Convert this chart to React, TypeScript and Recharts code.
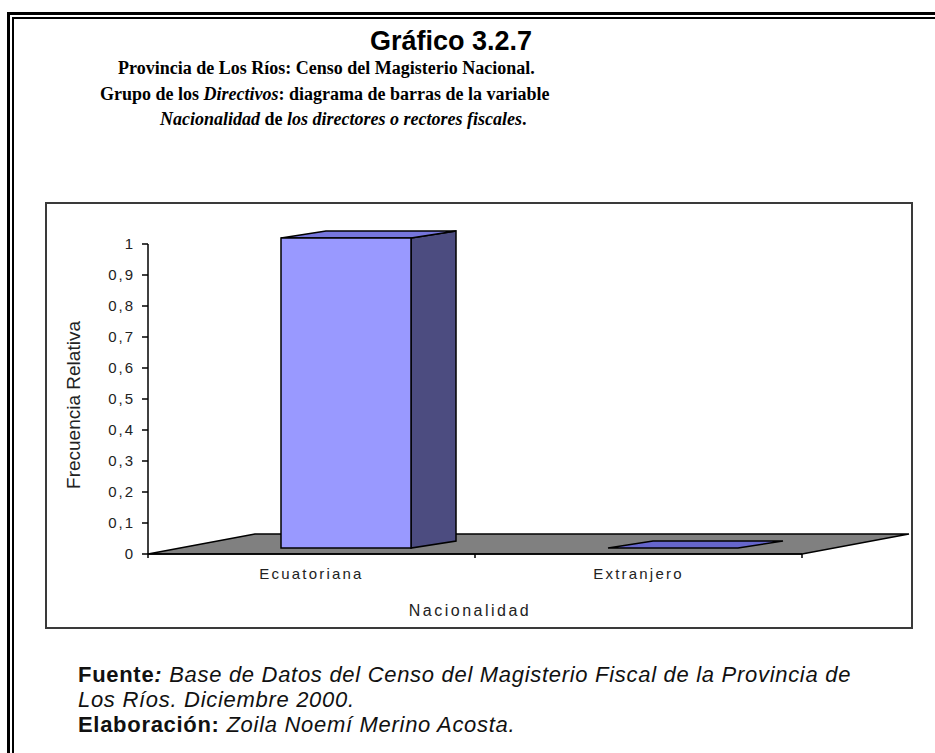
import { BarChart, Bar, XAxis, YAxis, ReferenceLine, Label } from 'recharts';

const categories = ['Ecuatoriana', 'Extranjero'];
const relFreq = [1, 0];
const yTicks = [0, 0.1, 0.2, 0.3, 0.4, 0.5, 0.6, 0.7, 0.8, 0.9, 1];

const data = categories.map((name, i) => ({ name, value: relFreq[i] }));

// 3D look (Excel 97 style)
const FLOOR_DX = 107;
const FLOOR_DY = 20;
const BAR_OX = 34; // bar front sits inside floor depth
const BAR_OY = 6;
const BAR_DX = 45;
const BAR_DY = 7;

const sans = '"Liberation Sans", Arial, sans-serif';
const serif = '"Liberation Serif", "Times New Roman", serif';

function Floor(props: any) {
    const { x1, y1, x2 } = props;
    const n = categories.length;
    const band = (x2 - x1) / n;
    const pts = `${x1},${y1} ${x2},${y1} ${x2 + FLOOR_DX},${y1 - FLOOR_DY} ${x1 + FLOOR_DX},${y1 - FLOOR_DY}`;
    return (
        <g>
            <polygon points={pts} fill="#808080" stroke="#000" strokeWidth={1.5} />
            {Array.from({ length: n + 1 }).map((_, i) => (
                <line key={i} x1={x1 + band * i} y1={y1} x2={x1 + band * i} y2={y1 + 4} stroke="#000" strokeWidth={1.5} />
            ))}
        </g>
    );
}

function Bar3D(props: any) {
    const { x, y, width, height } = props;
    const fx = x + BAR_OX;
    const top = y - BAR_OY;
    const bottom = y + height - BAR_OY;
    const right = fx + width;
    const topFace = `${fx},${top} ${right},${top} ${right + BAR_DX},${top - BAR_DY} ${fx + BAR_DX},${top - BAR_DY}`;
    if (height < 1) {
        return <polygon points={topFace} fill="#6666cc" stroke="#000" strokeWidth={1.5} />;
    }
    const side = `${right},${top} ${right + BAR_DX},${top - BAR_DY} ${right + BAR_DX},${bottom - BAR_DY} ${right},${bottom}`;
    return (
        <g>
            <polygon points={side} fill="#4c4c80" stroke="#000" strokeWidth={1.5} />
            <polygon points={topFace} fill="#7676dc" stroke="#000" strokeWidth={1.5} />
            <rect x={fx} y={top} width={width} height={height} fill="#9999ff" stroke="#000" strokeWidth={1.5} />
        </g>
    );
}

function XTick(props: any) {
    const { x, y, payload } = props;
    return (
        <text x={x} y={y + 17} textAnchor="middle" fontFamily={sans} fontSize={15} letterSpacing={2.2} fill="#222">
            {payload.value}
        </text>
    );
}

function YTitle(props: any) {
    const { viewBox } = props;
    const cx = viewBox.x - 15;
    const cy = viewBox.y + viewBox.height / 2 + 6;
    return (
        <text transform={`translate(${cx}, ${cy}) rotate(-90)`} textAnchor="middle" dominantBaseline="central"
            fontFamily={sans} fontSize={19} fill="#222">
            Frecuencia Relativa
        </text>
    );
}

function XTitle(props: any) {
    const { viewBox } = props;
    return (
        <text x={viewBox.x + viewBox.width / 2 - 5} y={viewBox.y + 62} textAnchor="middle"
            fontFamily={sans} fontSize={16} letterSpacing={2.5} fill="#222">
            Nacionalidad
        </text>
    );
}

const abs = (left: number, top: number, extra: any = {}) => ({ position: 'absolute' as const, left, top, whiteSpace: 'nowrap' as const, ...extra });

export default function App() {
    return (
        <div style={{ position: 'absolute', left: 0, top: 0, width: 935, height: 753, overflow: 'hidden', background: '#fff' }}>
            {/* double frame */}
            <div style={{ position: 'absolute', left: 7, top: 12, width: 960, height: 780, border: '3px solid #000' }} />
            <div style={{ position: 'absolute', left: 12, top: 17, width: 960, height: 780, border: '2px solid #000' }} />

            <div style={abs(370, 26, { fontFamily: sans, fontWeight: 'bold', fontSize: 27 })}>Gráfico 3.2.7</div>
            <div style={abs(118, 58, { fontFamily: serif, fontWeight: 'bold', fontSize: 18 })}>
                Provincia de Los Ríos: Censo del Magisterio Nacional.
            </div>
            <div style={abs(100, 84, { fontFamily: serif, fontWeight: 'bold', fontSize: 18 })}>
                Grupo de los <i>Directivos</i>: diagrama de barras de la variable
            </div>
            <div style={abs(160, 109, { fontFamily: serif, fontWeight: 'bold', fontSize: 18 })}>
                <i>Nacionalidad</i> de <i>los directores o rectores fiscales</i>.
            </div>

            <div style={abs(45, 202)}>
                <BarChart width={868} height={427} data={data} margin={{ top: 42, right: 111, bottom: 45, left: 43 }}>
                    <ReferenceLine y={0} stroke="#000" zIndex={-10} shape={(p: any) => <Floor {...p} />} />
                    <XAxis dataKey="name" tickLine={false} axisLine={{ stroke: '#000', strokeWidth: 1.5 }} tick={<XTick />} height={30}>
                        <Label content={<XTitle />} />
                    </XAxis>
                    <YAxis
                        domain={[0, 1]}
                        ticks={yTicks}
                        width={60}
                        tickSize={6}
                        tickMargin={7}
                        tickFormatter={(v: number) => String(v).replace('.', ',')}
                        axisLine={{ stroke: '#000', strokeWidth: 1.5 }}
                        tickLine={{ stroke: '#000', strokeWidth: 1.5 }}
                        tick={{ fill: '#222', fontFamily: sans, fontSize: 15, letterSpacing: 2 }}
                    >
                        <Label content={<YTitle />} />
                    </YAxis>
                    <Bar dataKey="value" barSize={130} shape={(p: any) => <Bar3D {...p} />} isAnimationActive={false} />
                </BarChart>
                <div style={{ position: 'absolute', left: 0, top: 0, width: 868, height: 427, boxSizing: 'border-box', border: '2px solid #3a3a3a', pointerEvents: 'none' }} />
            </div>

            <div style={abs(78, 662, { fontFamily: sans, fontSize: 22, lineHeight: '25px', letterSpacing: 0.7, color: '#111' })}>
                <b>Fuente</b><b><i>:</i></b> <i>Base de Datos del Censo del Magisterio Fiscal de la Provincia de</i><br />
                <i>Los Ríos. Diciembre 2000.</i><br />
                <b>Elaboración:</b> <i>Zoila Noemí Merino Acosta.</i>
            </div>
        </div>
    );
}
